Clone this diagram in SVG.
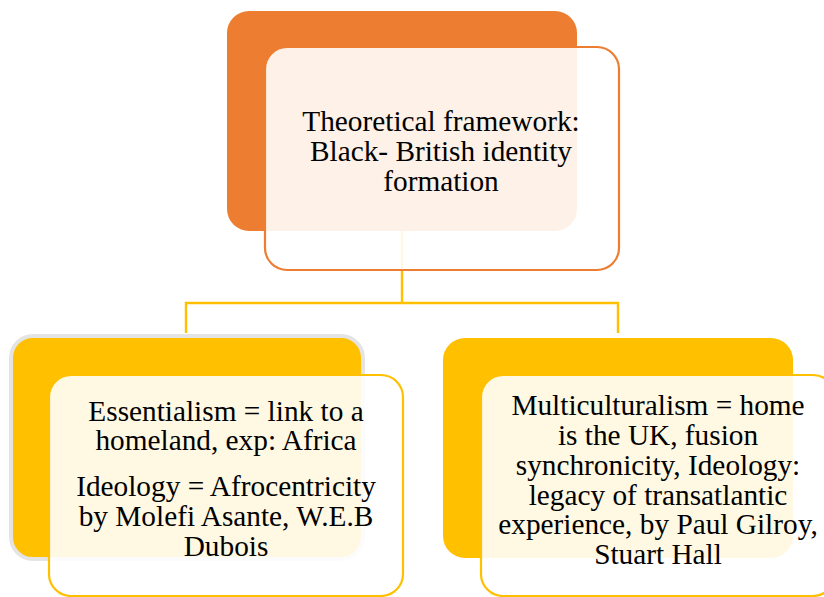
<svg xmlns="http://www.w3.org/2000/svg" width="824" height="597" viewBox="0 0 824 597">
<style>
.back-o{fill:#ED7D31;}
.back-y{fill:#FFC000;}
.front-o{fill:#FFFFFF;fill-opacity:0.89;stroke:#ED7D31;stroke-width:2.2;}
.front-y{fill:#FFFFFF;fill-opacity:0.89;stroke:#FFC000;stroke-width:2.2;}
.conn{fill:none;stroke:#FFC000;stroke-width:2.4;}
text{font-family:"Liberation Serif","Times New Roman",serif;font-size:29.3px;fill:#000;text-anchor:middle;}
</style>
<rect width="824" height="597" fill="#FFFFFF"/>
<g id="connectors">
<path class="conn" d="M402,231 V303 M186,333 V303 H618 V333"/>
</g>
<g id="node-top">
<rect class="back-o" x="227" y="11" width="350" height="220" rx="22"/>
<rect class="front-o" x="265" y="47" width="354" height="223" rx="22"/>
<text x="441" y="131">Theoretical framework:</text>
<text x="441" y="161">Black- British identity</text>
<text x="441" y="191">formation</text>
</g>
<g id="node-left">
<rect class="back-y" x="11" y="336" width="352" height="223" rx="22" stroke="#E4E4E4" stroke-width="4"/>
<rect class="front-y" x="49" y="375" width="354" height="221" rx="22"/>
<text x="226" y="421">Essentialism = link to a</text>
<text x="226" y="450">homeland, exp: Africa</text>
<text x="226" y="496">Ideology = Afrocentricity</text>
<text x="226" y="526">by Molefi Asante, W.E.B</text>
<text x="226" y="556">Dubois</text>
</g>
<g id="node-right">
<rect class="back-y" x="443" y="338" width="350" height="220" rx="22"/>
<rect class="front-y" x="481" y="375" width="354" height="221" rx="22"/>
<text x="658" y="415">Multiculturalism = home</text>
<text x="658" y="445">is the UK, fusion</text>
<text x="658" y="474.5">synchronicity, Ideology:</text>
<text x="658" y="504.5">legacy of transatlantic</text>
<text x="658" y="534">experience, by Paul Gilroy,</text>
<text x="658" y="564">Stuart Hall</text>
</g>
</svg>
